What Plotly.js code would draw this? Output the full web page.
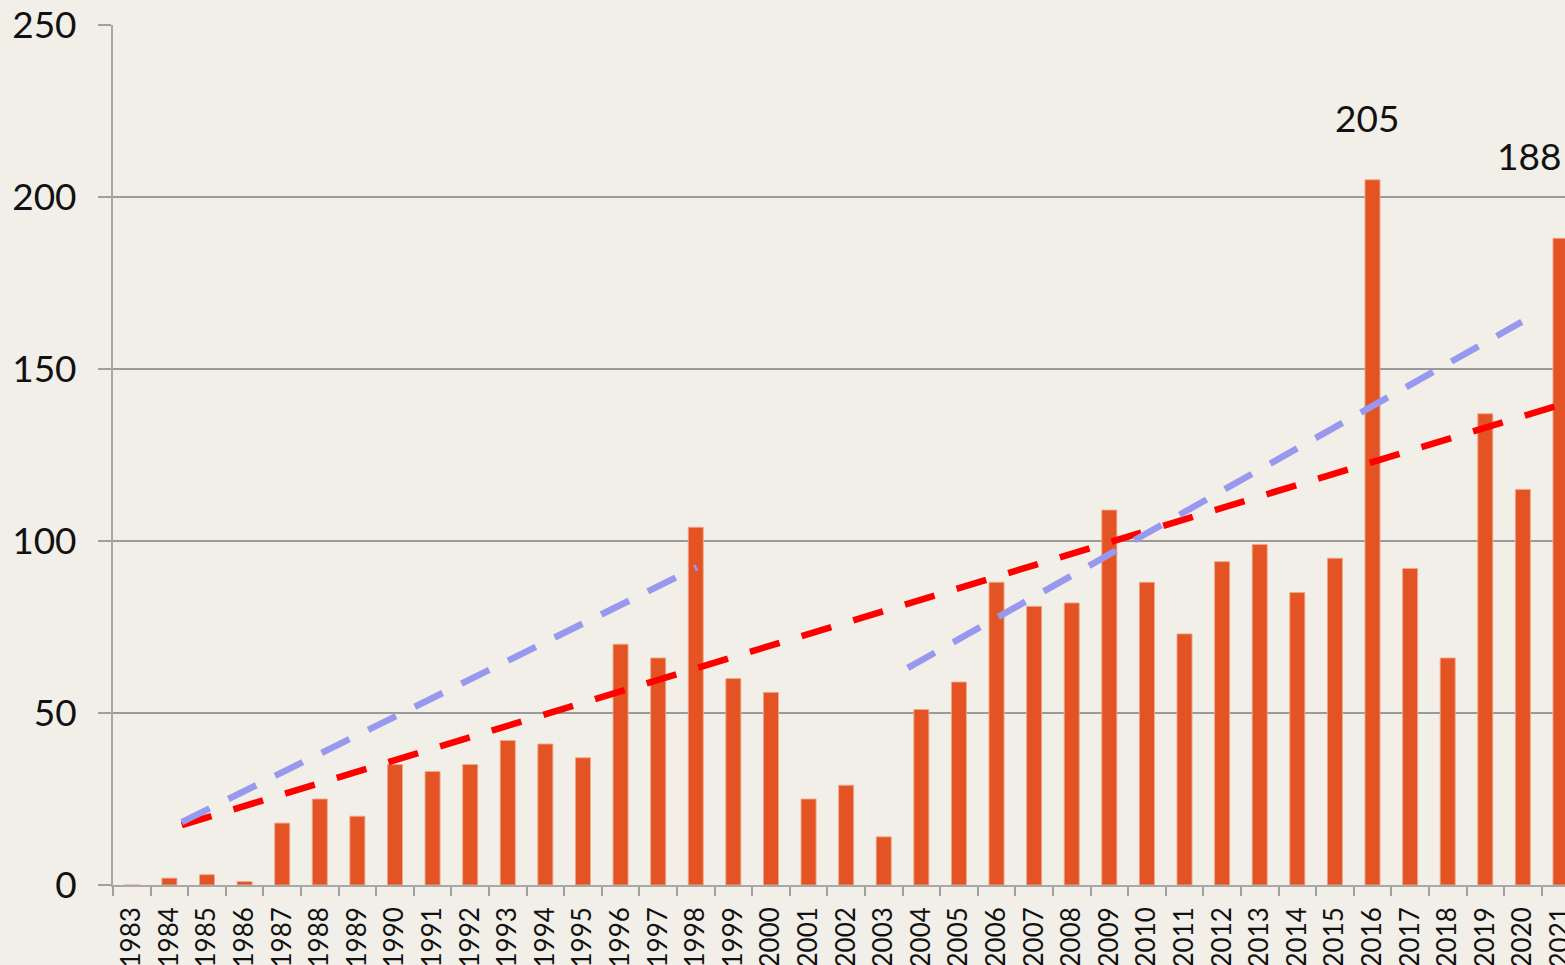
<!DOCTYPE html>
<html>
<head>
<meta charset="utf-8">
<script src="https://cdn.plot.ly/plotly-3.0.1.min.js"></script>
<style>
  html, body { margin: 0; padding: 0; background: #F2EFE8; }
  #chart { width: 1565px; height: 965px; }
</style>
</head>
<body>
<div id="chart"></div>
<script>
const years = [1983,1984,1985,1986,1987,1988,1989,1990,1991,1992,1993,1994,1995,1996,1997,1998,1999,2000,
  2001,2002,2003,2004,2005,2006,2007,2008,2009,2010,2011,2012,2013,2014,2015,2016,2017,2018,2019,2020,2021];
const counts = [0,2,3,1,18,25,20,35,33,35,42,41,37,70,66,104,60,56,
  25,29,14,51,59,88,81,82,109,88,73,94,99,85,95,205,92,66,137,115,188];

// Trend lines (endpoints: year position, value)
const redTrendX = [1984.33, 2021.5];
const redTrendY = [17.4, 141.3];
const blueTrend1X = [1984.33, 1998.03];
const blueTrend1Y = [18.3, 92.4];
const blueTrend2X = [2003.64, 2019.97];
const blueTrend2Y = [63.1, 163.7];

// Labelled values
const labelYears = [2016, 2021];
const labelValues = [205, 188];

const yTicks = [0, 50, 100, 150, 200, 250];

const FONT = "Lato, 'Open Sans', sans-serif";
const xRange = [1982.5, 2021.12];

const traces = [
  {
    type: 'bar', x: years, y: counts,
    marker: { color: '#E35323', line: { color: 'rgba(240,170,140,0.9)', width: 1 } },
    hoverinfo: 'x+y'
  },
  {
    type: 'scatter', mode: 'lines', x: redTrendX, y: redTrendY,
    line: { color: '#FF0000', width: 6.5, dash: '31px,23px' }
  },
  {
    type: 'scatter', mode: 'lines', x: blueTrend1X, y: blueTrend1Y,
    line: { color: '#9899EE', width: 6.5, dash: '31px,21px' }
  },
  {
    type: 'scatter', mode: 'lines', x: blueTrend2X, y: blueTrend2Y,
    line: { color: '#9899EE', width: 6.5, dash: '31px,21px' }
  },
  {
    type: 'scatter', mode: 'markers', x: years, y: counts.map(() => 0),
    xaxis: 'x2', marker: { opacity: 0 }, hoverinfo: 'skip'
  }
];

const shifts = [[-6, 62], [-31, 83]];
const annotations = labelYears.map((yr, i) => ({
  x: yr, y: labelValues[i], xref: 'x', yref: 'y',
  text: String(labelValues[i]), showarrow: false,
  xanchor: 'center', yanchor: 'middle',
  xshift: shifts[i][0], yshift: shifts[i][1],
  font: { family: FONT, size: 37, color: '#111' }
}));

const layout = {
  width: 1565, height: 965,
  margin: { l: 113, r: 0, t: 25, b: 80 },
  paper_bgcolor: '#F2EFE8', plot_bgcolor: '#F2EFE8',
  showlegend: false,
  bargap: 0.6,
  font: { family: FONT, color: '#111' },
  xaxis: {
    type: 'linear', range: xRange,
    tickmode: 'array', tickvals: years.map(y => y - 0.5), ticktext: years.map(() => ''),
    ticks: 'outside', ticklen: 9, tickwidth: 2, tickcolor: '#A0A0A0',
    showline: true, linecolor: '#A8A8A8', linewidth: 2,
    showgrid: false, zeroline: false, fixedrange: true
  },
  xaxis2: {
    type: 'linear', range: xRange, overlaying: 'x', anchor: 'y', side: 'bottom',
    tickmode: 'array', tickvals: years, ticktext: years.map(String),
    tickangle: -90, ticks: '', ticklabelstandoff: 16, ticklabeloverflow: 'allow',
    tickfont: { family: FONT, size: 26, color: '#111' },
    showline: false, showgrid: false, zeroline: false
  },
  yaxis: {
    range: [0, 250], tickmode: 'array', tickvals: yTicks,
    ticks: 'outside', ticklen: 13, tickwidth: 2, tickcolor: '#A0A0A0',
    showline: true, linecolor: '#A8A8A8', linewidth: 2,
    showgrid: true, gridcolor: '#9A9A9A', gridwidth: 1.5,
    zeroline: false, ticklabelstandoff: 14,
    tickfont: { family: FONT, size: 37, color: '#111' }
  },
  annotations: annotations
};

Plotly.newPlot('chart', traces, layout, { displayModeBar: false, staticPlot: true });
</script>
</body>
</html>
